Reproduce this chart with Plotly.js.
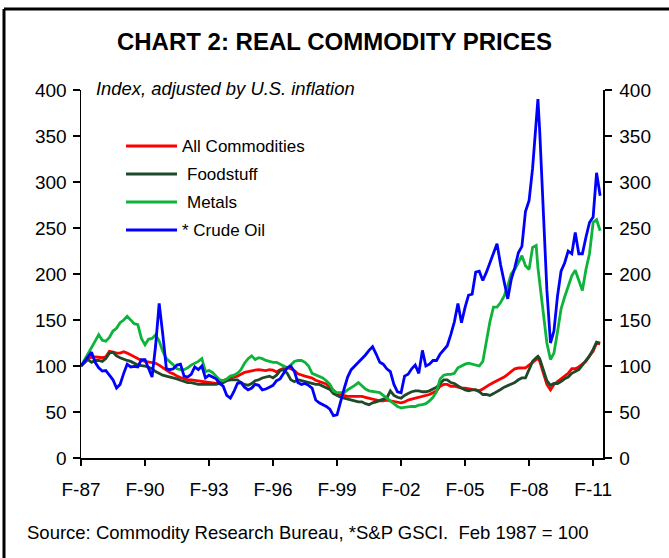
<!DOCTYPE html>
<html>
<head>
<meta charset="utf-8">
<script src="https://cdn.plot.ly/plotly-3.0.1.min.js"></script>
<style>html,body{margin:0;padding:0;background:#fff;}#chart{width:669px;height:558px;}</style>
</head>
<body>
<div id="chart"></div>
<script>
const dates = [
'1987-02','1987-04','1987-06','1987-08','1987-10','1987-12',
'1988-02','1988-04','1988-06','1988-08','1988-10','1988-12',
'1989-02','1989-04','1989-06','1989-08','1989-10','1989-12',
'1990-02','1990-04','1990-06','1990-08','1990-10','1990-12',
'1991-02','1991-04','1991-06','1991-08','1991-10','1991-12',
'1992-02','1992-04','1992-06','1992-08','1992-10','1992-12',
'1993-02','1993-04','1993-06','1993-08','1993-10','1993-12',
'1994-02','1994-04','1994-06','1994-08','1994-10','1994-12',
'1995-02','1995-04','1995-06','1995-08','1995-10','1995-12',
'1996-02','1996-04','1996-06','1996-08','1996-10','1996-12',
'1997-02','1997-04','1997-06','1997-08','1997-10','1997-12',
'1998-02','1998-04','1998-06','1998-08','1998-10','1998-12',
'1999-02','1999-04','1999-06','1999-08','1999-10','1999-12',
'2000-02','2000-04','2000-06','2000-08','2000-10','2000-12',
'2001-02','2001-04','2001-06','2001-08','2001-10','2001-12',
'2002-02','2002-04','2002-06','2002-08','2002-10','2002-12',
'2003-02','2003-04','2003-06','2003-08','2003-10','2003-12',
'2004-02','2004-04','2004-06','2004-08','2004-10','2004-12',
'2005-02','2005-04','2005-06','2005-08','2005-10','2005-12',
'2006-02','2006-04','2006-06','2006-08','2006-10','2006-12',
'2007-02','2007-04','2007-06','2007-08','2007-10','2007-12',
'2008-02','2008-04','2008-06','2008-07','2008-08','2008-10','2008-12',
'2009-02','2009-04','2009-06','2009-08','2009-10','2009-12',
'2010-02','2010-04','2010-06','2010-08','2010-10','2010-12',
'2011-02','2011-04','2011-06'
];

const allCommodities = [
100,104,108.5,109.5,110,109.5,
109,110,116,115,114,114,
115.5,114,112,110,108,106,
105,104.5,104,103,101,98,
95,93,91.5,89,87.5,86,
85,85,84.5,84,83.5,83,
82,81.5,81,83,84,85.5,
86.5,88,89,91,93,94,
95,95.5,96,95.5,95,96,
95.5,93.5,96,97.5,98,97,
95,91.5,90,89,88,87,
84.5,83,82,80.5,77,73,
70,69,68,67,67,67,
67,67,66,65,64,63,
62,62,63,62,61.5,60.5,
60,61,63,64,65,66,
67,68,69,71,73,78,
80,80,78,78,77,76,
76,75,74.5,74,73,75,
78,80,82,84,86,88,
91,94,97,97.8,97.8,98,
101,104,107,108.6,105,93,80,
74,80,83,86,88,92,
97,97,99,102,105,111,
116,125,124
];

const foodstuff = [
100,104,107,104,106,106,
105,108,114,115,111,109,
107,106,105,103,101,100.5,
100,98.5,97,94,92,90,
89,88,87.5,86,84.5,83,
82,82,81,80,80,80,
80,80,80,81,82,84,
85,85,85,82,80,79,
81,84,85,87,88,89,
87,90,95,96,92,85,
83,85,84,83,82,81,
80,80,78,76,74.5,70,
68,66,65,64,63,62,
61,61,59,58,60,61,
63,64,65,73,68,66,
65,68,70,72,73,73,
72,72,73,75,77,81,
85,85,82,81,78,76,
74,73,74,74,72,69,
69,68,70,72,74.5,77,
79,80,82,85,87,87,
97,105,109,110.5,108,96,84,
79,81,81,83,86,88,
92,94,96,101,106,111,
118,126,125
];

const metals = [
100,107,114,120,127,134,
128,127,131,138,141,147,
150,154,150,146,145,130,
123,129,130,134,127,116,
108,104,101,97,96,96,
98,101,103,105,108,94,
95,93,89,85,84,86,
89,90,92,96,103,108,
111,107,109,108,106,105,
104,104,102,100,98,101,
105,106,106,104,100,92,
90,89,87,84,80,73,
71,71,71,74,77,79,
82,78,75,73,72.5,72,
71,68,65,61,58,56,
54.5,55,56,56,56,57.5,
58,59,62,66,72,86,
90,91,91,92,98,100,
102,103,102,101,100,105,
126,148,164,164,169,176,
187,200,205,212,220,209,
205,229,231,207,190,160,125,
107,114,137,162,175,186,
198,204,193,182,205,222,
256,259,247
];

const crudeOil = [
100,105,111,115,104,98,
94.5,95,90,85,76,80,
92,102,99,99.5,99,107,
107,98,88,122,168,135,
97,96,97,101,102,89,
88,91,99,96,100,87,
90,88,86,81,78,68,
65,72,81,82,77,74,
76,80,79,74,75,77,
79,84,86,92,98,100,
94,82,80,81,79,76,
63,60,58,56,53,46,
47,62,75,88,96,100,
104,108,112,117,121,113,
104,102,97,94,80,72,
71,89,91,97,101,92,
117,100,102,106,106,113,
117,122,134,148,168,147,
164,177,178,202,203,193,
202,212,224,233,210,190,
173,194,207,223,230,268,
280,315,373,390,355,265,183,
125,138,176,203,212,225,
222,245,222,222,240,256,
262,310,285
];

const seriesNames = ['All Commodities', 'Foodstuff', 'Metals', '* Crude Oil'];
const seriesColors = ['#FF0000', '#1F4A2A', '#0DB33A', '#0000FF'];
const seriesData = [allCommodities, foodstuff, metals, crudeOil];

const tickDates = ['1987-02-01','1990-02-01','1993-02-01','1996-02-01','1999-02-01','2002-02-01','2005-02-01','2008-02-01','2011-02-01'];
const tickLabels = ['F-87','F-90','F-93','F-96','F-99','F-02','F-05','F-08','F-11'];
const yTicks = [0,50,100,150,200,250,300,350,400];

const W = 669, H = 558, ML = 81, MR = 66, MT = 90, MB = 100;
const PW = W - ML - MR, PH = H - MT - MB;
const px = v => (v - ML) / PW;
const py = v => (H - MB - v) / PH;

const traces = seriesData.map((arr, i) => ({
  x: dates, y: arr, type: 'scatter', mode: 'lines', name: seriesNames[i],
  line: {color: seriesColors[i], width: 2.8}, hoverinfo: 'skip'
}));
traces.push({x: [dates[0]], y: [null], yaxis: 'y2', type: 'scatter', mode: 'lines', showlegend: false, hoverinfo: 'skip'});

const FONT = 'Liberation Sans, Arial, Helvetica, sans-serif';
const legendRows = [146, 174, 202, 230];
const legendTextX = [181, 186, 186, 181];
const shapes = [];
const annotations = [];
legendRows.forEach((r, i) => {
  shapes.push({type: 'line', xref: 'paper', yref: 'paper', x0: px(126), x1: px(177), y0: py(r), y1: py(r),
    line: {color: seriesColors[i], width: 3}});
  annotations.push({xref: 'paper', yref: 'paper', x: px(legendTextX[i]), y: py(r), xanchor: 'left', yanchor: 'middle',
    text: seriesNames[i], showarrow: false, font: {size: 17, color: '#000', family: FONT}, borderpad: 0});
});
annotations.push({xref: 'paper', yref: 'paper', x: px(95), y: py(88), xanchor: 'left', yanchor: 'middle',
  text: '<i>Index, adjusted by U.S. inflation</i>', showarrow: false, font: {size: 18.4, color: '#000', family: FONT}, borderpad: 0});
annotations.push({xref: 'paper', yref: 'paper', x: px(26), y: py(532), xanchor: 'left', yanchor: 'middle',
  text: 'Source: Commodity Research Bureau, *S&amp;P GSCI.&nbsp; Feb 1987 = 100', showarrow: false, font: {size: 18.5, color: '#000', family: FONT}, borderpad: 0});
// frame (top and left)
shapes.push({type: 'line', xref: 'paper', yref: 'paper', x0: px(4), x1: px(700), y0: py(9), y1: py(9), line: {color: '#000', width: 3}});
shapes.push({type: 'line', xref: 'paper', yref: 'paper', x0: px(4), x1: px(4), y0: py(9), y1: py(600), line: {color: '#000', width: 3}});

const yAxisCommon = {
  range: [0, 400], tickmode: 'array', tickvals: yTicks, ticks: 'outside', ticklen: 7, tickwidth: 1.5, tickcolor: '#000',
  showline: true, linecolor: '#000', linewidth: 1.5, showgrid: false, zeroline: false,
  tickfont: {size: 19, color: '#000', family: FONT}, fixedrange: true
};

const layout = {
  width: W, height: H,
  margin: {l: ML, r: MR, t: MT, b: MB, pad: 0},
  paper_bgcolor: '#fff', plot_bgcolor: '#fff', showlegend: false,
  font: {family: FONT, color: '#000'},
  title: {text: '<b>CHART 2: REAL COMMODITY PRICES</b>', font: {size: 24, color: '#000', family: FONT},
    x: 0.5, xref: 'container', xanchor: 'center', y: 1 - 42 / H, yref: 'container', yanchor: 'middle'},
  xaxis: {type: 'date', range: ['1987-02-01', '2011-07-20'], tickmode: 'array', tickvals: tickDates, ticktext: tickLabels,
    ticks: 'outside', ticklen: 6, tickwidth: 1.5, tickcolor: '#000', showline: true, linecolor: '#000', linewidth: 1.5,
    showgrid: false, zeroline: false, tickfont: {size: 19, color: '#000', family: FONT}, ticklabelstandoff: 8, fixedrange: true},
  yaxis: Object.assign({side: 'left', ticklabelstandoff: 2}, yAxisCommon),
  yaxis2: Object.assign({side: 'right', overlaying: 'y', ticklabelstandoff: 4}, yAxisCommon),
  shapes: shapes,
  annotations: annotations
};

Plotly.newPlot('chart', traces, layout, {staticPlot: true, displayModeBar: false});
</script>
</body>
</html>
